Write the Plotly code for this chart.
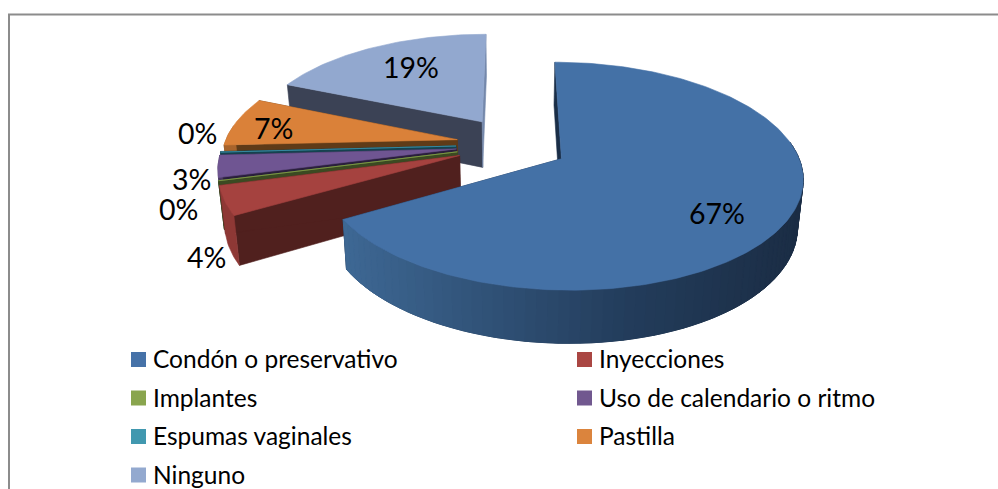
import math
import plotly.graph_objects as go

# ---- data -------------------------------------------------------------
categories = ["Condón o preservativo", "Inyecciones", "Implantes",
              "Uso de calendario o ritmo", "Espumas vaginales", "Pastilla", "Ninguno"]
values = [66.6, 4.2, 0.1, 3.2, 0.1, 7.2, 18.6]

# ---- styles -----------------------------------------------------------
top_colors = ["#4471a6", "#a5423f", "#86a44a", "#6f5592", "#3d96ae", "#da8139", "#92a8cf"]
legend_colors = ["#4672a8", "#aa4643", "#89a54e", "#71588f", "#4198af", "#db843d", "#93a9cf"]
cut_start_colors = ["#1a2e47", "#50201e", "#3b4a22", "#2a1f3c", "#15424f", "#5f3b18", "#3b4255"]
cut_end_colors = ["#1a2e47", "#50201e", "#3b4a22", "#2a1f3c", "#15424f", "#5f3b18", "#7488ab"]
rim_colors = ["#1b2d45", "#8e3835", "#3b4a22", "#4b3962", "#15424f", "#a8642c", "#6a7c9c"]

X0, Y0, A, B, P, DZ, SHRINK = 512, 144.5, 233, 107, 0.15, 47.5, 0.98
EX, EY = 0.24, 0.262

FONT = "Lato"
label_xy = [(717, 213), (206, 257), (178, 209), (191, 179), (197, 133), (273, 128), (411, 67)]
legend_cols = [131, 577]
legend_rows = [359.5, 398, 436.5, 475]


def proj(x, v, z=0.0):
    k = 1 / (1 - P * v) * (1 - (1 - SHRINK) * z)
    return X0 + A * x * k, Y0 + (B * v + DZ * z) * k


fig = go.Figure()


def poly(pts, color, width=0.6):
    fig.add_trace(go.Scatter(
        x=[p[0] for p in pts] + [pts[0][0]], y=[p[1] for p in pts] + [pts[0][1]],
        mode="lines", fill="toself", fillcolor=color,
        line=dict(color=color, width=width), hoverinfo="skip", showlegend=False))


def mix(c1, c2, t):
    a = [int(c1[i:i + 2], 16) for i in (1, 3, 5)]
    b = [int(c2[i:i + 2], 16) for i in (1, 3, 5)]
    return "#%02x%02x%02x" % tuple(round(a[i] + (b[i] - a[i]) * t) for i in range(3))


def big_rim_color(px):
    if px < 630:
        return mix("#3e6894", "#233d5c", max(0, (px - 345) / 285))
    return mix("#233d5c", "#1b2d45", min(1, (px - 630) / 170))


total = sum(values)
starts, acc = [], 0.0
for v in values:
    starts.append(acc)
    acc += v / total * 2 * math.pi

for i in reversed(range(len(values))):
    t0 = starts[i]
    t1 = t0 + values[i] / total * 2 * math.pi
    mid = (t0 + t1) / 2
    ox, ov = EX * math.sin(mid), -EY * math.cos(mid)
    n = max(3, int((t1 - t0) / 0.02))
    ths = [t0 + (t1 - t0) * j / n for j in range(n + 1)]
    arc = lambda ts, z: [proj(ox + math.sin(t), ov - math.cos(t), z) for t in ts]
    top_arc = arc(ths, 0)
    ap0, ap1 = proj(ox, ov, 0), proj(ox, ov, 1)
    first, last = top_arc[0], top_arc[-1]
    bot_first, bot_last = arc([t0], 1)[0], arc([t1], 1)[0]
    # cut faces
    poly([ap0, first, bot_first, ap1], cut_start_colors[i])
    poly([ap0, last, bot_last, ap1], cut_end_colors[i])
    # outer rim: only the part that faces the viewer
    front = [t for t in ths if -math.cos(t) > -0.15]
    if len(front) >= 2:
        rt, rb = arc(front, 0), arc(front, 1)
        poly(rt + rb[::-1], rim_colors[i])
        if i == 0:
            step = 2
            for j in range(0, len(front) - 1, step):
                e = min(len(front) - 1, j + step)
                poly(rt[j:e + 1] + rb[j:e + 1][::-1], big_rim_color(rt[j][0]), width=1.0)
    # top surface
    poly([ap0] + top_arc, top_colors[i])

# percentage labels
for v, (lx, ly) in zip(values, label_xy):
    fig.add_annotation(x=lx, y=ly, text=f"{round(v / total * 100)}%", showarrow=False,
                       xanchor="center", yanchor="middle",
                       font=dict(family=FONT, size=28.5, color="#000000"))

# legend
for i, name in enumerate(categories):
    col, row = i % 2, i // 2
    fig.add_trace(go.Scatter(
        x=[legend_cols[col] + 7.5], y=[legend_rows[row]], mode="markers",
        marker=dict(symbol="square", size=15, color=legend_colors[i], line=dict(width=0)),
        hoverinfo="skip", showlegend=False))
    fig.add_annotation(x=legend_cols[col] + 19.5, y=legend_rows[row] - 1, text=name, showarrow=False,
                       xanchor="left", yanchor="middle",
                       font=dict(family=FONT, size=24.5, color="#000000"))

fig.update_layout(
    width=998, height=489, margin=dict(l=0, r=0, t=0, b=0),
    paper_bgcolor="#ffffff", plot_bgcolor="#ffffff", showlegend=False,
    xaxis=dict(range=[0, 998], visible=False, fixedrange=True),
    yaxis=dict(range=[489, 0], visible=False, fixedrange=True),
    shapes=[
        dict(type="line", x0=9, x1=9, y0=14, y1=489, line=dict(color="#8c8c8c", width=2)),
        dict(type="line", x0=8, x1=998, y0=14.5, y1=14.5, line=dict(color="#8c8c8c", width=2)),
    ],
)
fig.write_html("out.html", config={"displayModeBar": False},
               post_script="document.body.style.margin='0';document.body.style.overflow='hidden';")
